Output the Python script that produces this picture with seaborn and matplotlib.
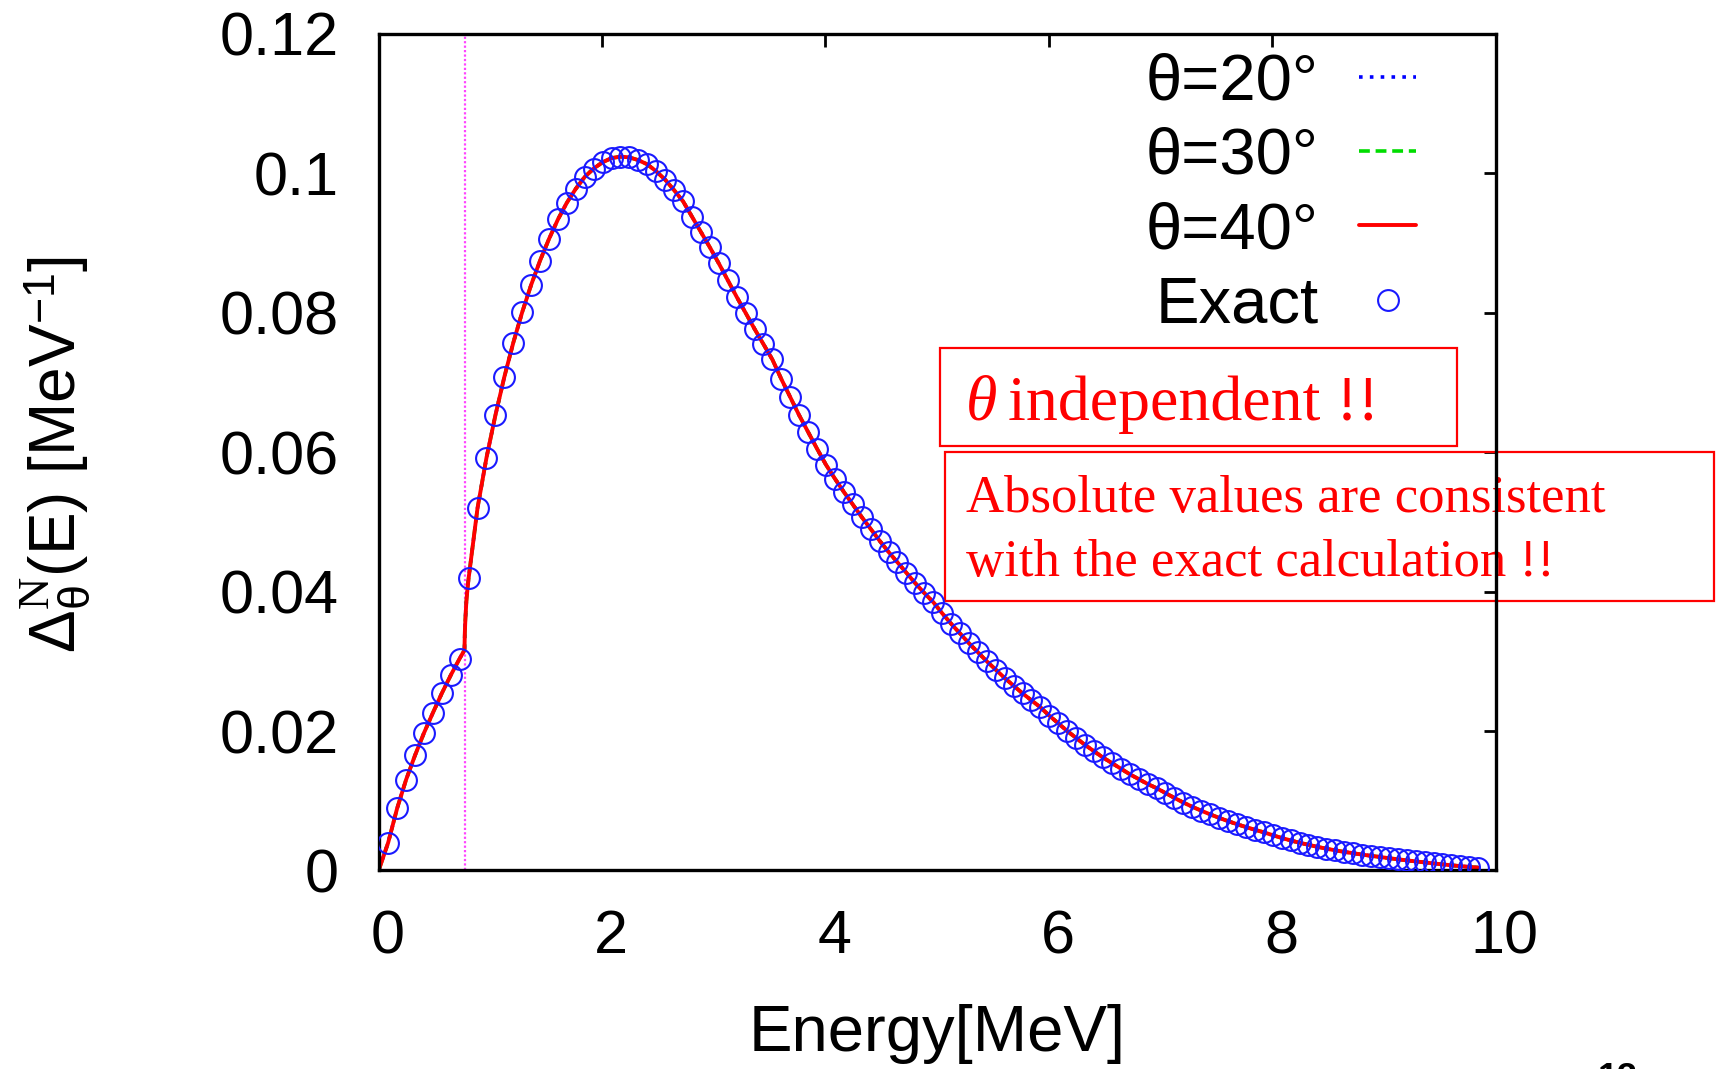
import matplotlib
matplotlib.use("Agg")
import matplotlib.pyplot as plt
import seaborn as sns
import pandas as pd
from matplotlib.patches import Rectangle
from matplotlib.transforms import ScaledTranslation

# ---------------- data ----------------
exact_energy = [
    0.085, 0.165, 0.245, 0.325, 0.405, 0.485, 0.565, 0.645, 0.725,
    0.805, 0.885, 0.965, 1.045, 1.125, 1.205, 1.285, 1.365, 1.445,
    1.525, 1.605, 1.685, 1.765, 1.845, 1.925, 2.005, 2.085, 2.165,
    2.245, 2.325, 2.405, 2.485, 2.565, 2.645, 2.725, 2.805, 2.885,
    2.965, 3.045, 3.125, 3.205, 3.285, 3.365, 3.445, 3.525, 3.605,
    3.685, 3.765, 3.845, 3.925, 4.005, 4.085, 4.165, 4.245, 4.325,
    4.405, 4.485, 4.565, 4.645, 4.725, 4.805, 4.885, 4.965, 5.045,
    5.125, 5.205, 5.285, 5.365, 5.445, 5.525, 5.605, 5.685, 5.765,
    5.845, 5.925, 6.005, 6.085, 6.165, 6.245, 6.325, 6.405, 6.485,
    6.565, 6.645, 6.725, 6.805, 6.885, 6.965, 7.045, 7.125, 7.205,
    7.285, 7.365, 7.445, 7.525, 7.605, 7.685, 7.765, 7.845, 7.925,
    8.005, 8.085, 8.165, 8.245, 8.325, 8.405, 8.485, 8.565, 8.645,
    8.725, 8.805, 8.885, 8.965, 9.045, 9.125, 9.205, 9.285, 9.365,
    9.445, 9.525, 9.605, 9.685, 9.765, 9.845,
]
exact_value = [
    0.0040, 0.0089, 0.0130, 0.0165, 0.0197, 0.0226, 0.0254, 0.0280, 0.0304,
    0.0419, 0.0520, 0.0592, 0.0653, 0.0708, 0.0757, 0.0801, 0.0840, 0.0875,
    0.0906, 0.0934, 0.0958, 0.0978, 0.0995, 0.1007, 0.1016, 0.1022, 0.1024,
    0.1023, 0.1019, 0.1013, 0.1003, 0.0991, 0.0976, 0.0960, 0.0938, 0.0916,
    0.0894, 0.0871, 0.0847, 0.0823, 0.0800, 0.0777, 0.0755, 0.0733, 0.0705,
    0.0679, 0.0653, 0.0629, 0.0605, 0.0582, 0.0562, 0.0543, 0.0525, 0.0507,
    0.0490, 0.0473, 0.0457, 0.0442, 0.0427, 0.0412, 0.0398, 0.0385, 0.0369,
    0.0354, 0.0340, 0.0326, 0.0313, 0.0300, 0.0288, 0.0276, 0.0265, 0.0254,
    0.0244, 0.0234, 0.0222, 0.0211, 0.0200, 0.0190, 0.0180, 0.0171, 0.0162,
    0.0154, 0.0146, 0.0138, 0.0131, 0.0124, 0.0118, 0.0111, 0.0104, 0.00974,
    0.00913, 0.00857, 0.00804, 0.00754, 0.00707, 0.00663, 0.00622, 0.00583, 0.00547,
    0.00505, 0.00466, 0.00430, 0.00397, 0.00367, 0.00338, 0.00312, 0.00288, 0.00266,
    0.00246, 0.00227, 0.00209, 0.00193, 0.00175, 0.00159, 0.00144, 0.00129, 0.00114,
    0.00100, 0.00086, 0.00073, 0.00061, 0.00050, 0.00040,
]

# extra points of the model curves (origin and the steep rise at threshold)
model_extra_energy = [0.0, 0.768, 0.771, 0.776, 0.785, 0.795]
model_extra_value = [0.0, 0.0316, 0.0340, 0.0360, 0.0386, 0.0404]

threshold_energy = 0.77

series_labels = ["θ=20°", "θ=30°", "θ=40°"]
exact_label = "Exact"

xticks = [0, 2, 4, 6, 8, 10]
xtick_labels = ["0", "2", "4", "6", "8", "10"]
yticks = [0, 0.02, 0.04, 0.06, 0.08, 0.1, 0.12]
ytick_labels = ["0", "0.02", "0.04", "0.06", "0.08", "0.1", "0.12"]

x_label = "Energy[MeV]"
y_label = r"$\mathsf{\Delta}_{\mathsf{\theta}}^{\mathrm{N}}$(E) [MeV$^{\mathsf{-1}}$]"
note1_symbol = "θ"
note1_text = "independent !!"
note2_lines = ["Absolute values are consistent", "with the exact calculation !!"]
corner_text = "13"

# ---------------- styling ----------------
sns.set_style("white")
plt.rcParams["font.family"] = ["Liberation Sans", "DejaVu Sans"]
plt.rcParams["text.color"] = "black"
plt.rcParams["axes.labelcolor"] = "black"
plt.rcParams["xtick.color"] = "black"
plt.rcParams["ytick.color"] = "black"
plt.rcParams["mathtext.fontset"] = "custom"
plt.rcParams["mathtext.rm"] = "Liberation Serif"
plt.rcParams["mathtext.sf"] = "Liberation Sans"
plt.rcParams["mathtext.it"] = "Liberation Serif:italic"

W, H = 1721, 1069
fig = plt.figure(figsize=(W / 100, H / 100), dpi=100)
fig.patch.set_facecolor("white")


def fx(px):
    return px / W


def fy(py):
    return 1 - py / H


ax = fig.add_axes([fx(378.7), fy(870.4), fx(1495.5) - fx(378.7), fy(34) - fy(870.4)])
ax.set_facecolor("white")

model_df = pd.DataFrame({
    "energy": model_extra_energy + exact_energy,
    "value": model_extra_value + exact_value,
}).sort_values("energy")
exact_df = pd.DataFrame({"energy": exact_energy, "value": exact_value})

line_styles = [
    dict(color="#0000ff", linestyle=(0, (1, 2.0)), linewidth=2.6),
    dict(color="#00dd00", linestyle=(0, (3, 1.6)), linewidth=2.6),
    dict(color="#ff0000", linestyle="-", linewidth=2.8),
]
for lab, st in zip(series_labels, line_styles):
    sns.lineplot(data=model_df, x="energy", y="value", ax=ax, label=lab,
                 estimator=None, sort=False, zorder=2, **st)

sns.lineplot(data=exact_df, x="energy", y="value", ax=ax, label=exact_label,
             estimator=None, linestyle="", marker="o", markersize=15,
             markerfacecolor="none", markeredgecolor="#1a1aff",
             markeredgewidth=1.5, zorder=3)

ax.axvline(threshold_energy, color="#ff44ff", linestyle=(0, (1, 1)), linewidth=1.6, zorder=1)

ax.set_xlim(0, 10)
ax.set_ylim(0, 0.12)
ax.set_xticks(xticks)
ax.set_xticklabels(xtick_labels)
ax.set_yticks(yticks)
ax.set_yticklabels(ytick_labels)
ax.tick_params(axis="both", which="major", direction="in", length=9, width=2,
               top=True, right=True, labelsize=44, colors="black")
ax.tick_params(axis="x", pad=28)
ax.tick_params(axis="y", pad=29)
shift = ScaledTranslation(9 / 100, 0, fig.dpi_scale_trans)
for lbl in ax.get_xticklabels():
    lbl.set_transform(lbl.get_transform() + shift)
for sp in ax.spines.values():
    sp.set_linewidth(2.4)
    sp.set_color("black")
    sp.set_zorder(2.5)
ax.set_xlabel("")
ax.set_ylabel("")

# axis labels
fig.text(fx(937), fy(1051), x_label, ha="center", va="baseline", fontsize=47,
         color="black")
fig.text(fx(55), fy(455), y_label, rotation=90, ha="center", va="center",
         fontsize=46, color="black")

# legend (text first, handle right)
leg = ax.legend(loc="upper right", bbox_to_anchor=(0.929, 0.978), frameon=False,
                markerfirst=False, fontsize=47, handlelength=0.87,
                handletextpad=0.62, labelspacing=0.22, borderpad=0, borderaxespad=0)
for t in leg.get_texts():
    t.set_color("black")

# annotation boxes
ax.add_patch(Rectangle((fx(939.5), fy(446)), fx(1457) - fx(939.5), fy(348) - fy(446),
                       transform=fig.transFigure, fill=False, edgecolor="#ff0000",
                       linewidth=1.6, clip_on=False, zorder=2))
ax.add_patch(Rectangle((fx(945), fy(601)), fx(1714) - fx(945), fy(452) - fy(601),
                       transform=fig.transFigure, fill=False, edgecolor="#ff0000",
                       linewidth=1.6, clip_on=False, zorder=2))
ax.text(fx(966), fy(420), note1_symbol, transform=fig.transFigure, color="#ff0000",
        family="Liberation Serif", style="italic", fontsize=46, ha="left",
        va="baseline", clip_on=False, zorder=2)
ax.text(fx(1008), fy(420), note1_text, transform=fig.transFigure, color="#ff0000",
        family="Liberation Serif", fontsize=46, ha="left", va="baseline",
        clip_on=False, zorder=2)
for line, base in zip(note2_lines, [512, 576]):
    ax.text(fx(966), fy(base), line, transform=fig.transFigure, color="#ff0000",
            family="Liberation Serif", fontsize=38, ha="left", va="baseline",
            clip_on=False, zorder=2)

# partially visible footer text at the bottom edge
fig.text(fx(1598), fy(1062), corner_text, ha="left", va="top", fontsize=26,
         fontweight="bold", color="black")

fig.savefig("out.png", dpi=100)
